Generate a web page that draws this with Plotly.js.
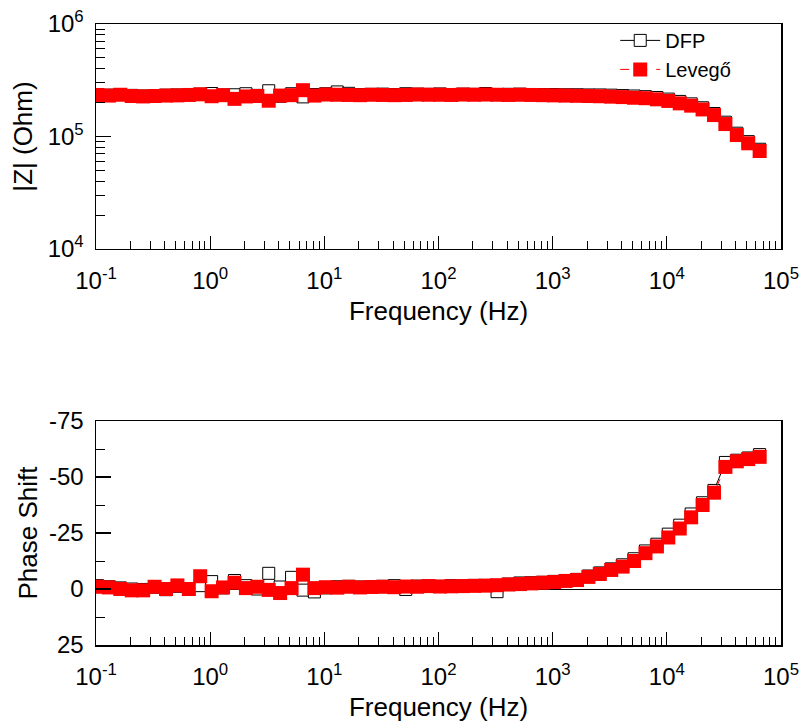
<!DOCTYPE html>
<html>
<head>
<meta charset="utf-8">
<script src="https://cdn.plot.ly/plotly-3.0.1.min.js"></script>
<style>html,body{margin:0;padding:0;background:#fff}#chart{width:801px;height:725px}</style>
</head>
<body>
<div id="chart"></div>
<script>
// Frequencies (Hz), ascending
const freq = [0.103, 0.1297, 0.1633, 0.2056, 0.2588, 0.3258, 0.4101, 0.5163, 0.65, 0.8183,
  1.03, 1.297, 1.633, 2.056, 2.588, 3.258, 4.101, 5.163, 6.5, 8.183,
  10.3, 12.97, 16.33, 20.56, 25.88, 32.58, 41.01, 51.63, 65, 81.83,
  103, 129.7, 163.3, 205.6, 258.8, 325.8, 410.1, 516.3, 650, 818.3,
  1030, 1297, 1633, 2056, 2588, 3258, 4101, 5163, 6500, 8183,
  10300, 12970, 16330, 20560, 25880, 32580, 41010, 51630, 65000];

// |Z| (Ohm)
const zDFP = [236000, 233000, 236000, 232000, 229000, 231000, 233000, 234000, 236000, 238000,
  241000, 234000, 235000, 240000, 232000, 255000, 228000, 240000, 225000, 236000,
  240000, 249000, 242000, 236000, 237000, 238000, 236000, 240000, 238000, 237000,
  239000, 236000, 238000, 237000, 241000, 236000, 237000, 238000, 236000, 236000,
  236000, 235000, 235000, 234000, 234000, 233000, 231000, 229000, 226000, 222000,
  215000, 205000, 195000, 180000, 160000, 134000, 107000, 90000, 77000];
const zLevego = [234000, 231000, 235000, 229000, 227000, 229000, 231000, 232000, 234000, 237000,
  228000, 233000, 216000, 227000, 229000, 208000, 231000, 233000, 258000, 231000,
  236000, 235000, 234000, 233000, 235000, 234000, 233000, 234000, 236000, 235000,
  235000, 234000, 236000, 235000, 236000, 235000, 234000, 235000, 234000, 233000,
  232000, 231000, 230000, 229000, 228000, 226000, 224000, 221000, 219000, 214000,
  207000, 197000, 188000, 174000, 155000, 129000, 103000, 87000, 74300];

// Phase shift (deg)
const phDFP = [-1.5, -1, -0.5, 0, 0.2, -0.8, 0.3, -1.2, 0.2, -1.5,
  -3.3, -0.5, -3.8, -1.5, 0, -7, -0.9, -5.2, 0.5, 1.3,
  -0.5, -1, -1.2, -0.9, -1, -1.2, -1.5, 0.2, -1.3, -1.4,
  -1.2, -1.5, -1.4, -1.6, -1.6, 1.2, -2.2, -2.7, -2.8, -3,
  -3.4, -3.8, -4.3, -5.8, -7.2, -9, -10.8, -13.5, -17, -20,
  -24.5, -28.5, -33.5, -38.5, -44, -56.5, -57.5, -58.5, -60];
const phLevego = [-1, -0.7, 0, 0.6, 0.6, -1, 0, -1.6, 0, -5.7,
  1, -0.7, -2.8, -0.4, -1, 0.4, 1.8, -0.4, -6.4, -0.4,
  -0.8, -0.6, -1, -0.7, -0.9, -1, -0.8, -1.1, -1, -1.3,
  -1.1, -1.2, -1.3, -1.4, -1.5, -1.7, -2, -2.2, -2.5, -2.8,
  -3.1, -3.6, -4, -5.4, -6.7, -8.5, -10, -12.5, -16, -19,
  -23, -27, -32, -37.5, -43, -54.5, -57, -58, -59];

// Tick labels
const xTickVals = [0.1, 1, 10, 100, 1000, 10000, 100000];
const xTickText = ['10<sup>-1</sup>', '10<sup>0</sup>', '10<sup>1</sup>', '10<sup>2</sup>', '10<sup>3</sup>', '10<sup>4</sup>', '10<sup>5</sup>'];
const zTickVals = [1e4, 1e5, 1e6];
const zTickText = ['10<sup>4</sup>', '10<sup>5</sup>', '10<sup>6</sup>'];
const phTickVals = [-75, -50, -25, 0, 25];
const phTickText = ['-75', '-50', '-25', '0', '25'];

const names = ['DFP', 'Levegő'];

const FONT = 'Liberation Sans, Arial, sans-serif';

const dfpStyle = {
  mode: 'lines+markers',
  line: {color: '#000', width: 1},
  marker: {symbol: 'square', size: 12, color: '#fff', line: {color: '#000', width: 1}}
};
const levStyle = {
  mode: 'lines+markers',
  line: {color: '#ff0000', width: 1, dash: 'dash'},
  marker: {symbol: 'square', size: 14, color: '#ff0000', line: {width: 0}}
};

const traces = [
  Object.assign({x: freq, y: zDFP, name: names[0], xaxis: 'x', yaxis: 'y'}, dfpStyle),
  Object.assign({x: freq, y: zLevego, name: names[1], xaxis: 'x', yaxis: 'y'}, levStyle),
  Object.assign({x: freq, y: phDFP, name: names[0], xaxis: 'x2', yaxis: 'y2', showlegend: false}, dfpStyle),
  Object.assign({x: freq, y: phLevego, name: names[1], xaxis: 'x2', yaxis: 'y2', showlegend: false}, levStyle)
];

function xAxis(anchor) {
  return {
    type: 'log', range: [-1, 5], anchor: anchor,
    tickmode: 'array', tickvals: xTickVals, ticktext: xTickText,
    ticks: 'inside', ticklen: 13, tickwidth: 1.2, tickcolor: '#000',
    minor: {dtick: 'D1', ticks: 'inside', ticklen: 8, tickwidth: 1, tickcolor: '#000', showgrid: false},
    showline: true, mirror: true, linecolor: '#000', linewidth: 1.5,
    showgrid: false, zeroline: false,
    ticklabelstandoff: 10,
    tickfont: {family: FONT, size: 24, color: '#000'},
    title: {text: 'Frequency (Hz)', font: {family: FONT, size: 26, color: '#000'}, standoff: 8}
  };
}

const layout = {
  width: 801, height: 725,
  margin: {l: 96, r: 20, t: 24, b: 80},
  paper_bgcolor: '#fff', plot_bgcolor: '#fff',
  font: {family: FONT, color: '#000'},
  showlegend: true,
  legend: {
    x: 0.758, y: 1.005, xanchor: 'left', yanchor: 'top',
    bgcolor: 'rgba(0,0,0,0)', borderwidth: 0,
    font: {family: FONT, size: 20, color: '#000'},
    tracegroupgap: 0, itemwidth: 40
  },
  xaxis: Object.assign(xAxis('y'), {domain: [0, 1]}),
  yaxis: {
    type: 'log', range: [4, 6], domain: [0.6377, 1], anchor: 'x',
    tickmode: 'array', tickvals: zTickVals, ticktext: zTickText,
    ticks: 'inside', ticklen: 15, tickwidth: 1.2, tickcolor: '#000',
    minor: {dtick: 'D1', ticks: 'inside', ticklen: 9, tickwidth: 1, tickcolor: '#000', showgrid: false},
    showline: true, mirror: true, linecolor: '#000', linewidth: 1.5,
    showgrid: false, zeroline: false,
    ticklabelstandoff: 6,
    tickfont: {family: FONT, size: 24, color: '#000'},
    title: {text: '|Z| (Ohm)', font: {family: FONT, size: 26, color: '#000'}, standoff: 7}
  },
  xaxis2: Object.assign(xAxis('y2'), {domain: [0, 1]}),
  yaxis2: {
    range: [25, -75], domain: [0, 0.3607], anchor: 'x2',
    tickmode: 'array', tickvals: phTickVals, ticktext: phTickText,
    ticks: 'inside', ticklen: 15, tickwidth: 1.2, tickcolor: '#000',
    minor: {dtick: 12.5, ticks: 'inside', ticklen: 9, tickwidth: 1, tickcolor: '#000', showgrid: false},
    showline: true, mirror: true, linecolor: '#000', linewidth: 1.5,
    showgrid: false, zeroline: true, zerolinecolor: '#000', zerolinewidth: 1,
    ticklabelstandoff: 6,
    tickfont: {family: FONT, size: 24, color: '#000'},
    title: {text: 'Phase Shift', font: {family: FONT, size: 26, color: '#000'}, standoff: 4}
  }
};

Plotly.newPlot('chart', traces, layout, {displayModeBar: false, staticPlot: true});
</script>
</body>
</html>
